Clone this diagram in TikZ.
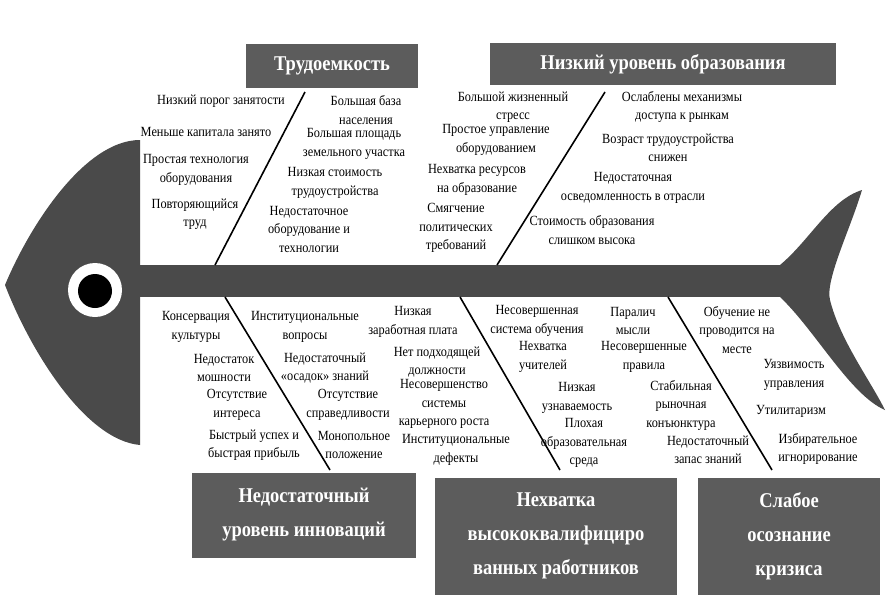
\documentclass[tikz,border=0pt]{standalone}
\usepackage{fontspec}
\setmainfont{Liberation Serif}[FakeStretch=0.88]
\begin{document}
\begin{tikzpicture}[x=1pt,y=-1pt,
  t/.style={align=center,inner sep=0pt,font=\fontsize{14}{18.5}\selectfont},
  hdr/.style={fill=fishgray!90,text=white,font=\fontsize{21}{34}\selectfont\bfseries,align=center,inner sep=0pt},
  bone/.style={line width=1.6pt}]
\definecolor{fishgray}{HTML}{4A4A4A}
\useasboundingbox (0,0) rectangle (894,603);
% head
\fill[fishgray] (140,140) .. controls (85,140) and (30,225) .. (5,285) .. controls (30,350) and (85,440) .. (140,445) -- cycle;
% spine
\fill[fishgray] (135,265) rectangle (795,297);
% tail
\fill[fishgray] (780,265) .. controls (810,240) and (830,200) .. (862,190) .. controls (850,230) and (825,280) .. (830,300) .. controls (840,340) and (870,380) .. (885,410) .. controls (850,395) and (815,330) .. (780,297) -- cycle;
% eye
\fill[white] (95,290) circle (27);
\fill[black] (95,291) circle (17);
% bones
\coordinate (s1) at (215,265); \coordinate (e1) at (305,92);
\coordinate (s2) at (497,265); \coordinate (e2) at (605,92);
\coordinate (s3) at (225,297); \coordinate (e3) at (330,470);
\coordinate (s4) at (460,297); \coordinate (e4) at (560,470);
\coordinate (s5) at (668,297); \coordinate (e5) at (772,470);
\draw[bone] (s1) -- (e1); \draw[bone] (s2) -- (e2);
\draw[bone] (s3) -- (e3); \draw[bone] (s4) -- (e4); \draw[bone] (s5) -- (e5);
% headers
\node[hdr,minimum width=172,minimum height=44] (h1) at (332,66) {Трудоемкость};
\node[hdr,minimum width=346,minimum height=42] (h2) at (663,64) {Низкий уровень образования};
\node[hdr,minimum width=224,minimum height=85] (h3) at (304,515) {Недостаточный\\уровень инноваций};
\node[hdr,minimum width=242,minimum height=117] (h4) at (556,536) {Нехватка\\высококвалифициро\\ванных работников};
\node[hdr,minimum width=182,minimum height=117] (h5) at (789,536) {Слабое\\осознание\\кризиса};
% top-left
\node[t] (a1) at (221,101) {Низкий порог занятости};
\node[t] (a2) at (206,132) {Меньше капитала занято};
\node[t] (a3) at (196,170) {Простая технология\\оборудования};
\node[t] (a4) at (195,214) {Повторяющийся\\труд};
\node[t] (b1) at (366,110) {Большая база\\населения};
\node[t] (b2) at (354,144) {Большая площадь\\земельного участка};
\node[t] (b3) at (335,183) {Низкая стоимость\\трудоустройства};
\node[t] (b4) at (309,229) {Недостаточное\\оборудование и\\технологии};
\node[t] (c1) at (513,107) {Большой жизненный\\стресс};
\node[t] (c2) at (496,140) {Простое управление\\оборудованием};
\node[t] (c3) at (477,180) {Нехватка ресурсов\\на образование};
\node[t] (c4) at (456,228) {Смягчение\\политических\\требований};
\node[t] (d1) at (682,107) {Ослаблены механизмы\\доступа к рынкам};
\node[t] (d2) at (668,148) {Возраст трудоустройства\\снижен};
\node[t] (d3) at (633,188) {Недостаточная\\осведомленность в отрасли};
\node[t] (d4) at (592,230) {Стоимость образования\\слишком высока};
% bottom
\node[t] (f1) at (196,327) {Консервация\\культуры};
\node[t] (f2) at (224,368) {Недостаток\\мошности};
\node[t] (f3) at (237,405) {Отсутствие\\интереса};
\node[t] (f4) at (254,445) {Быстрый успех и\\быстрая прибыль};
\node[t] (g1) at (305,327) {Институциональные\\вопросы};
\node[t] (g2) at (325,368) {Недостаточный\\«осадок» знаний};
\node[t] (g3) at (348,405) {Отсутствие\\справедливости};
\node[t] (g4) at (354,445) {Монопольное\\положение};
\node[t] (k1) at (413,322) {Низкая\\заработная плата};
\node[t] (k2) at (437,362) {Нет подходящей\\должности};
\node[t] (k3) at (444,404) {Несовершенство\\системы\\карьерного роста};
\node[t] (k4) at (456,450) {Институциональные\\дефекты};
\node[t] (m1) at (537,321) {Несовершенная\\система обучения};
\node[t] (m2) at (543,357) {Нехватка\\учителей};
\node[t] (m3) at (577,398) {Низкая\\узнаваемость};
\node[t] (m4) at (584,443) {Плохая\\образовательная\\среда};
\node[t] (n1) at (633,321) {Паралич\\мысли};
\node[t] (n2) at (644,357) {Несовершенные\\правила};
\node[t] (n3) at (681,405) {Стабильная\\рыночная\\конъюнктура};
\node[t] (n4) at (708,450) {Недостаточный\\запас знаний};
\node[t] (p1) at (737,330) {Обучение не\\проводится на\\месте};
\node[t] (p2) at (794,375) {Уязвимость\\управления};
\node[t] (p3) at (791,411) {Утилитаризм};
\node[t] (p4) at (818,449) {Избирательное\\игнорирование};
\end{tikzpicture}
\end{document}
